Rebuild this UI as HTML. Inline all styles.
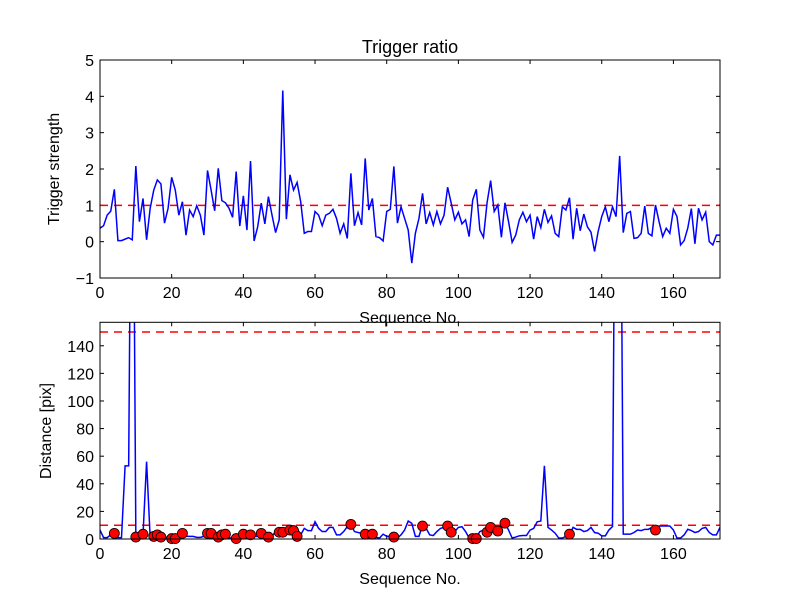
<!DOCTYPE html>
<html><head><meta charset="utf-8"><style>
body{margin:0;background:#fff;}
svg text{font-family:"Liberation Sans","DejaVu Sans",sans-serif;fill:#000;}
</style></head><body>
<svg id="fig" width="800" height="600" xmlns="http://www.w3.org/2000/svg">
<rect width="800" height="600" fill="#fff"/>
</svg>
<script>
const topValues=[0.37,0.44,0.73,0.84,1.44,0.03,0.03,0.07,0.11,0.05,2.08,0.55,1.19,0.05,0.92,1.42,1.70,1.59,0.51,0.92,1.77,1.42,0.73,1.10,0.18,0.87,0.69,0.99,0.73,0.18,1.96,1.42,0.85,2.02,1.13,1.07,0.92,0.67,1.93,0.43,1.26,0.32,2.22,0.02,0.41,1.06,0.49,1.24,0.73,0.25,0.6,4.16,0.62,1.84,1.42,1.63,1.10,0.23,0.28,0.28,0.83,0.73,0.44,0.73,0.78,0.89,0.64,0.23,0.49,0.09,1.88,0.44,0.80,0.46,2.29,0.87,1.19,0.14,0.11,0.02,0.83,0.89,2.07,0.51,0.96,0.64,0.32,-0.59,0.23,0.64,1.33,0.49,0.80,0.46,0.83,0.49,0.73,1.50,1.06,0.60,0.81,0.49,0.60,0.14,1.15,1.44,0.32,0.12,1.07,1.68,0.83,1.01,0.12,1.07,0.55,-0.02,0.18,0.60,0.81,0.55,0.73,0.07,0.69,0.39,0.89,0.53,0.71,0.23,0.14,0.96,0.87,1.21,0.07,0.92,0.30,0.76,0.41,0.26,-0.27,0.28,0.69,0.96,0.55,0.96,0.69,2.36,0.25,0.78,0.83,0.09,0.11,0.23,0.98,0.23,0.16,1.01,0.55,0.14,0.37,0.23,0.89,0.69,-0.09,0.03,0.37,0.91,-0.06,0.92,0.60,0.81,0.00,-0.09,0.18,0.18];
const distValues=[6.5,1,1,3,1,1,1,53,53,400,2,2,3,56,1,1,1,0.7,1.2,1.2,1.2,1.4,1.9,1.9,1.9,1.9,1.9,1.2,1.2,1.9,1.9,1.2,0.7,1.2,1.9,1.9,0.7,0.7,1.2,1.9,1.9,1.9,1.9,1.9,1.9,1.9,1.9,1.9,1.9,5.4,6.1,6.5,6.5,6.5,1.9,7.7,3.0,7.7,6.1,6.1,12.5,7.7,5.4,5.4,8.4,8.4,3.0,3.0,5.4,8.9,10.6,5.4,4.7,4.2,3.5,1.9,1.2,1.2,0.7,3.5,1.9,1.9,1.9,0.7,3.0,6.5,13.0,11.3,1.9,1.9,10.1,7.7,3.0,2.5,5.4,7.7,8.4,9.4,7.7,5.4,8.4,8.9,5.4,0.7,0.7,1.4,5.4,6.5,7.7,7.7,6.5,8.4,10.1,11.3,6.5,0.7,1.4,2.3,2.5,2.5,6.5,7.7,12.5,13.0,53,8.4,6.5,4.2,0.7,0.7,1.9,3.0,8.4,7.0,7.0,5.4,6.1,8.4,4.7,4.2,2.3,2.3,6.5,9.0,400,400,3.5,3.5,3.5,4.7,6.5,6.1,7.0,7.0,8.4,8.4,9.4,9.4,9.4,9.4,6.5,0.7,0.7,3.0,7.0,6.1,4.7,5.4,7.7,8.4,4.7,3.0,3.0,8.4];
const dotIdx=[4,10,12,15,16,17,20,21,23,30,31,33,34,35,38,40,42,45,47,50,51,53,54,55,70,74,76,82,90,97,98,104,105,108,109,111,113,131,155];
const dotVals=[4.1,1.4,3.5,1.9,3.0,1.4,0.3,0.3,4.1,4.1,4.1,1.4,3.0,3.5,0.3,3.5,3.0,4.1,1.4,4.9,4.9,6.5,6.1,1.9,10.6,3.5,3.5,1.4,9.4,9.4,4.9,0.3,0.3,4.9,8.4,5.8,11.5,3.5,6.5];
const xTicks=[0,20,40,60,80,100,120,140,160];
const topYTicks=[-1,0,1,2,3,4,5];
const botYTicks=[0,20,40,60,80,100,120,140];
const topThreshold=1, botThresholds=[10,150];

const NS="http://www.w3.org/2000/svg", svg=document.getElementById('fig');
function mk(t,a,p){const e=document.createElementNS(NS,t);for(const k in a)e.setAttribute(k,a[k]);(p||svg).appendChild(e);return e;}
const L=100,R=720,XMAX=173;
const xs=v=>L+v/XMAX*(R-L);
const T1=60,B1=278,ys1=v=>B1-(v+1)/6*(B1-T1);
const T2=322.3,B2=539,YMAX2=157,ys2=v=>B2-v/YMAX2*(B2-T2);

function axes(T,B,ys,yticks,name){
  const g=mk('g',{});
  
  
  xTicks.forEach(t=>{const x=xs(t);
    mk('line',{x1:x,x2:x,y1:B,y2:B-4,stroke:'#000'},g);mk('line',{x1:x,x2:x,y1:T,y2:T+4,stroke:'#000'},g);
    const tx=mk('text',{x:x,y:B+20,'font-size':16,'text-anchor':'middle'},g);tx.textContent=t;
    });
  yticks.forEach(t=>{const y=ys(t);
    mk('line',{x1:L,x2:L+4,y1:y,y2:y,stroke:'#000'},g);mk('line',{x1:R,x2:R-4,y1:y,y2:y,stroke:'#000'},g);
    const tx=mk('text',{x:L-6,y:y+6,'font-size':16,'text-anchor':'end'},g);tx.textContent=(t<0?'\u2212'+(-t):t);
    });
  return g;
}
function clip(id,T,B){const c=mk('clipPath',{id:id});mk('rect',{x:L,y:T,width:R-L,height:B-T},c);}
clip('c1',T1,B1);clip('c2',T2,B2);

// top plot
axes(T1,B1,ys1,topYTicks,'top-axes');
let th=mk('line',{x1:L,x2:R,y1:ys1(topThreshold),y2:ys1(topThreshold),stroke:'#f00','stroke-dasharray':'8,6','stroke-width':1.5});

let p1=mk('polyline',{points:topValues.map((v,i)=>xs(i)+','+ys1(v)).join(' '),fill:'none',stroke:'#00f','stroke-width':1.5,'clip-path':'url(#c1)'});

mk('rect',{x:L,y:T1,width:R-L,height:B1-T1,fill:'none',stroke:'#000'});
let t1=mk('text',{x:410,y:53,'font-size':18,'text-anchor':'middle'});t1.textContent='Trigger ratio';

let yl1=mk('text',{x:0,y:0,'font-size':16,'text-anchor':'middle',transform:'translate(59,169) rotate(-90)'});yl1.textContent='Trigger strength';

let xl1=mk('text',{x:410,y:323,'font-size':16,'text-anchor':'middle'});xl1.textContent='Sequence No.';


// bottom plot
axes(T2,B2,ys2,botYTicks,'bottom-axes');
botThresholds.forEach(v=>{const l=mk('line',{x1:L,x2:R,y1:ys2(v),y2:ys2(v),stroke:'#f00','stroke-dasharray':'8,6','stroke-width':1.5});
  });
let p2=mk('polyline',{points:distValues.map((v,i)=>xs(i)+','+ys2(v)).join(' '),fill:'none',stroke:'#00f','stroke-width':1.5,'clip-path':'url(#c2)'});

dotIdx.forEach((d,i)=>{const c=mk('circle',{cx:xs(d),cy:ys2(dotVals[i]),r:5,fill:'#f00',stroke:'#000','stroke-width':0.8});
  });
mk('rect',{x:L,y:T2,width:R-L,height:B2-T2,fill:'none',stroke:'#000'});
let yl2=mk('text',{x:0,y:0,'font-size':16,'text-anchor':'middle',transform:'translate(51,431) rotate(-90)'});yl2.textContent='Distance [pix]';

let xl2=mk('text',{x:410,y:584,'font-size':16,'text-anchor':'middle'});xl2.textContent='Sequence No.';

</script>
</body></html>
